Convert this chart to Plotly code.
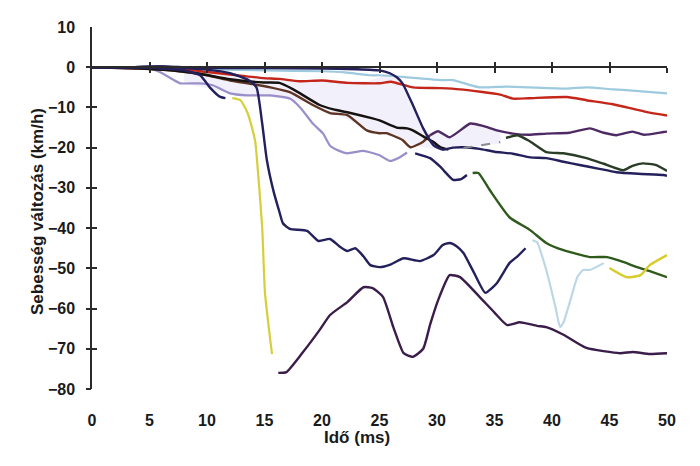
import plotly.graph_objects as go

# ---------------- data ----------------
x_ticks = [0, 5, 10, 15, 20, 25, 30, 35, 40, 45, 50]
y_ticks = [-80, -70, -60, -50, -40, -30, -20, -10, 0, 10]
x_title = "Idő (ms)"
y_title = "Sebesség változás (km/h)"

lightblue_x = [0, 5, 10, 15, 20, 22, 24.2, 25, 27.4, 30.3, 31.4, 33.7, 36, 38, 41.3, 43, 45.3, 47, 50]
lightblue_y = [0, -0.2, -0.5, -0.8, -1, -1.3, -2, -2, -2.5, -3.2, -3.2, -5, -4.8, -5, -5.3, -5, -5.5, -5.8, -6.5]

red_x = [0, 5, 8.5, 10, 12, 14.9, 16.3, 18, 20, 22.2, 25, 26, 27.9, 30.3, 32, 35.5, 36.6, 38, 41.3, 43, 45.3, 47, 48.5, 50]
red_y = [0, -0.3, -0.7, -1.2, -1.8, -2.7, -2.9, -3.5, -3.3, -3.9, -4.0, -3.6, -5.0, -5.2, -5.5, -6.8, -7.8, -7.7, -7.4, -8.2, -9.2, -10.3, -11.3, -12]

navy_late_x = [0, 3, 6, 8, 10, 15, 20, 23, 25, 25.9, 26.5, 27, 27.9, 28.8, 29.7, 30.5, 31.4, 32.3, 33.7, 35, 36.6, 38.1, 39.5, 41, 42.4, 44, 45.6, 47.5, 49.7, 50]
navy_late_y = [0, 0, 0.2, 0, -0.2, -0.2, -0.3, -0.5, -0.8, -1.5, -2.5, -4, -9.4, -15.2, -19.4, -20.5, -20, -19.9, -20.3, -21, -21.5, -22.4, -22.6, -23.5, -24.3, -25.2, -26.1, -26.5, -26.8, -27]

black_x = [0, 3.3, 6, 9.1, 12, 14.9, 16.3, 17.5, 19.8, 21, 22.2, 24.4, 25, 26.5, 27.4, 27.9, 28.8, 29.7, 30.3, 31]
black_y = [0, -0.2, -0.6, -1.5, -3.0, -3.8, -3.9, -5.5, -9.4, -10.5, -11.2, -12.7, -13.2, -15.0, -15.2, -15.7, -17.2, -18.6, -19.9, -20.5]

brown_x = [0, 4, 7, 10, 12, 14, 15.5, 17.2, 19.2, 20.7, 22.2, 23.9, 25, 25.6, 27, 27.7, 28.8, 29.4]
brown_y = [0, -0.3, -0.8, -2, -3.3, -4.2, -5, -6.2, -9.4, -11.4, -11.9, -15.7, -16.4, -16.4, -18.1, -19.9, -18.5, -16.9]

purple_x = [29.4, 30.1, 31.1, 32.9, 34, 35.2, 36.6, 38, 39.5, 41.5, 43.3, 44.5, 45.6, 47, 48, 49.7, 50]
purple_y = [-16.9, -15.9, -17.4, -14, -14.6, -15.7, -16.5, -16.8, -16.5, -16.3, -15.2, -16.3, -16.9, -16, -16.8, -16.1, -16]

lavender_x = [0, 3, 5, 5.9, 7, 7.7, 9.4, 10.5, 12, 13.5, 15.5, 17.2, 18.1, 19.2, 20.1, 20.7, 21.5, 22.2, 23.6, 25, 25.9, 26.7, 27.4]
lavender_y = [0, 0, -0.3, -1.2, -3, -4, -4, -4.5, -6.5, -7, -7, -7.8, -10, -14, -16.5, -19.5, -20.8, -21.4, -20.8, -21.9, -23.3, -22.5, -21.2]

navy_short_x = [0, 3, 6, 8, 9.4, 10.3, 11.1, 11.6]
navy_short_y = [0, 0, -0.3, -0.8, -2, -5.2, -7.3, -7.7]

yellow_x = [12.2, 12.9, 13.5, 13.9, 14.2, 14.35, 14.8, 15.04, 15.65]
yellow_y = [-7.7, -8.2, -11.2, -14.9, -18.6, -23.1, -39.8, -56.1, -71.3]

navy_mid_x = [0, 3, 6, 8, 10, 12, 13.6, 14.3, 14.8, 15.2, 15.8, 16.3, 16.6, 17.2, 18.7, 19.7, 20.7, 21.5, 22.2, 22.9, 23.6, 24.2, 25, 26, 27.1, 28.5, 29.7, 30.5, 31.1, 31.7, 32.3, 33.2, 34.2, 35.2, 36.3, 37, 37.7]
navy_mid_y = [0, 0, 0.2, -0.2, -0.6, -1.5, -3.2, -5, -14, -23, -31, -36, -38.8, -40.2, -40.7, -43.2, -42.7, -44.5, -45.7, -45, -47, -49.2, -49.7, -49, -47.5, -48.2, -46.7, -44.2, -43.7, -44.5, -46.2, -51, -56.1, -53.7, -48.7, -47, -45]

navy_seg_x = [28.1, 29.4, 30.3, 31.4, 32.1, 32.6]
navy_seg_y = [-21.4, -22.6, -24.8, -28, -27.8, -26.8]

plum_x = [16.2, 16.9, 18.3, 19.8, 20.7, 22.2, 23.6, 24.4, 25.3, 26.2, 27.1, 27.9, 28.8, 29.4, 30.1, 31.1, 32, 33.7, 35, 36.1, 37.2, 38.7, 39.5, 41, 43, 45.9, 47, 48.5, 50]
plum_y = [-76, -75.8, -71, -65.3, -61.6, -58.4, -54.7, -54.9, -57.1, -64.6, -71.1, -72, -70, -64, -57.9, -51.7, -52.2, -57.1, -61, -64.1, -63.4, -64.3, -64.6, -66.5, -69.8, -71.1, -70.8, -71.3, -71.1]

green_x = [33.1, 33.6, 34.6, 36.3, 38.1, 39.5, 41, 43.3, 44.8, 46, 47.4, 48.5, 50]
green_y = [-26.3, -26.3, -30.6, -37.3, -40.5, -43.7, -45.5, -47.2, -47.2, -48.2, -49.7, -50.7, -52.2]

darkgreen_x = [36, 37, 38, 39.5, 41, 43, 44.5, 46.2, 47, 47.9, 49, 50]
darkgreen_y = [-17.6, -16.9, -18.3, -21.1, -21.4, -22.6, -24, -25.6, -24.5, -23.9, -24.3, -25.8]

grey_x = [32.3, 35.5]
grey_y = [-20.1, -18.6]

dip_x = [38.3, 38.7, 39.5, 40.3, 40.7, 41, 41.6, 42.2, 42.7, 43.3, 44.5]
dip_y = [-43, -43.5, -50.4, -59.6, -64.6, -63.4, -57.9, -52.2, -50.4, -50.4, -48.7]

yellow2_x = [45, 46.5, 47.7, 48.5, 50]
yellow2_y = [-49.9, -52.2, -51.7, -49.2, -46.7]

fill_upper_x = [8, 12, 16, 20, 24, 26, 27, 27.9, 28.8, 29.7, 30.5, 31.1, 32.9, 35.5]
fill_upper_y = [-1, -2, -3, -3.3, -3.5, -1.5, -4, -9.4, -15.2, -17, -16, -17.4, -14, -15.5]
fill_lower_x = [8, 12, 16, 19, 21, 23, 25, 27, 28, 30, 32, 35.5]
fill_lower_y = [-4, -6.5, -7.5, -9, -11.5, -14, -16.4, -18.1, -19.5, -20.5, -20, -19]

# ---------------- figure ----------------
fig = go.Figure()

# faint shaded area
fig.add_trace(go.Scatter(
    x=fill_upper_x + fill_lower_x[::-1], y=fill_upper_y + fill_lower_y[::-1],
    fill="toself", fillcolor="rgba(226,222,244,0.45)", line=dict(width=0),
    mode="lines", hoverinfo="skip", showlegend=False))

series = [
    (lightblue_x, lightblue_y, "#9ecadf", 2.2, "solid"),
    (red_x, red_y, "#c4261a", 2.4, "solid"),
    (lavender_x, lavender_y, "#9a8fcb", 2.2, "solid"),
    (brown_x, brown_y, "#5e3424", 2.4, "solid"),
    (purple_x, purple_y, "#4e2a64", 2.4, "solid"),
    (black_x, black_y, "#15120f", 2.4, "solid"),
    (navy_late_x, navy_late_y, "#23205c", 2.4, "solid"),
    (navy_short_x, navy_short_y, "#23205c", 2.4, "solid"),
    (navy_mid_x, navy_mid_y, "#23205c", 2.4, "solid"),
    (navy_seg_x, navy_seg_y, "#23205c", 2.4, "solid"),
    (yellow_x, yellow_y, "#d6cf3c", 2.2, "solid"),
    (plum_x, plum_y, "#3a1d4a", 2.4, "solid"),
    (green_x, green_y, "#2f5a1c", 2.4, "solid"),
    (darkgreen_x, darkgreen_y, "#2b3d26", 2.4, "solid"),
    (grey_x, grey_y, "#8a8a8a", 2, "dash"),
    (dip_x, dip_y, "#bcd7e6", 2.2, "solid"),
    (yellow2_x, yellow2_y, "#d8cb2c", 2.4, "solid"),
]
for xs, ys, col, w, dash in series:
    fig.add_trace(go.Scatter(x=xs, y=ys, mode="lines",
                             line=dict(color=col, width=w, dash=dash, shape="spline", smoothing=0.5),
                             hoverinfo="skip", showlegend=False))

# empty traces so the overlay tick axes are created
for xa, ya in [("x2", "y"), ("x3", "y"), ("x", "y2"), ("x", "y3")]:
    fig.add_trace(go.Scatter(x=[], y=[], xaxis=xa, yaxis=ya, showlegend=False, hoverinfo="skip"))

ymin, ymax = min(y_ticks), max(y_ticks)
xmin, xmax = min(x_ticks), max(x_ticks)
zero_pos = (0 - ymin) / (ymax - ymin)
axis_col = "#2a2a2a"
FAM = "Arial, Liberation Sans, sans-serif"
bold16 = dict(family=FAM, size=16, color="#1a1a1a", weight="bold")
bold17 = dict(family=FAM, size=17, color="#1a1a1a", weight="bold")

fig.update_layout(
    width=700, height=466,
    margin=dict(l=84, r=41, t=19, b=85),
    plot_bgcolor="white", paper_bgcolor="white",
    showlegend=False,
    font=dict(family=FAM, color="#1a1a1a"),
    xaxis=dict(range=[xmin, xmax], tickvals=x_ticks, showgrid=False, zeroline=False,
               showline=False, ticks="", tickfont=bold16, ticklabelstandoff=20, automargin=False),
    xaxis2=dict(overlaying="x", range=[xmin, xmax], anchor="free", position=zero_pos,
                tickvals=x_ticks[1:], ticks="outside", ticklen=5, tickwidth=1.5, tickcolor=axis_col,
                showline=True, linecolor=axis_col, linewidth=1.5, showticklabels=False,
                showgrid=False, zeroline=False),
    xaxis3=dict(overlaying="x", range=[xmin, xmax], anchor="free", position=zero_pos,
                tickvals=x_ticks[1:], ticks="inside", ticklen=5, tickwidth=1.5, tickcolor=axis_col,
                showline=False, showticklabels=False, showgrid=False, zeroline=False),
    yaxis=dict(range=[ymin, ymax], tickvals=y_ticks, showgrid=False, zeroline=False,
               showline=True, linecolor=axis_col, linewidth=1.5, ticks="",
               tickfont=bold16, ticklabelstandoff=12, automargin=False),
    yaxis2=dict(overlaying="y", range=[ymin, ymax], anchor="x", tickvals=y_ticks[:-1],
                ticks="outside", ticklen=5, tickwidth=1.5, tickcolor=axis_col,
                showline=False, showticklabels=False, showgrid=False, zeroline=False),
    yaxis3=dict(overlaying="y", range=[ymin, ymax], anchor="x", tickvals=y_ticks[:-1],
                ticks="inside", ticklen=5, tickwidth=1.5, tickcolor=axis_col,
                showline=False, showticklabels=False, showgrid=False, zeroline=False),
    annotations=[
        dict(text=x_title, xref="paper", yref="paper", x=0.461, y=-0.1326,
             xanchor="center", yanchor="middle", showarrow=False, font=bold17),
        dict(text=y_title, xref="paper", yref="paper", x=-0.0939, y=0.489, textangle=-90,
             xanchor="center", yanchor="middle", showarrow=False, font=bold17),
    ],
)

fig.write_html("out.html")
